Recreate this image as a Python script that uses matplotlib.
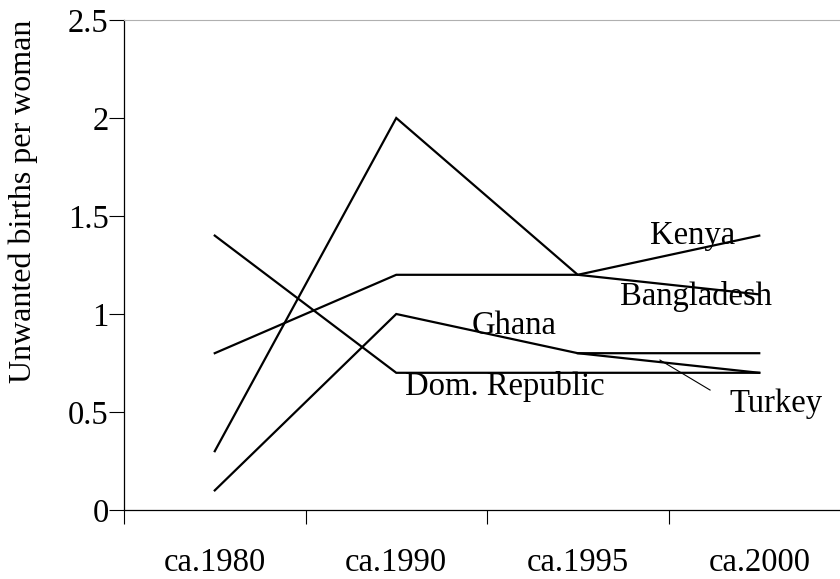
import matplotlib
matplotlib.use("Agg")
import matplotlib.pyplot as plt
import numpy as np

categories = ["ca.1980", "ca.1990", "ca.1995", "ca.2000"]
kenya = [0.3, 2.0, 1.2, 1.4]
bangladesh = [0.8, 1.2, 1.2, 1.1]
ghana = [0.1, 1.0, 0.8, 0.8]
dom_republic = [1.4, 0.7, 0.7, 0.7]
turkey = [np.nan, np.nan, 0.8, 0.7]
y_ticks = [0, 0.5, 1, 1.5, 2, 2.5]
y_tick_labels = ["0", "0.5", "1", "1.5", "2", "2.5"]

plt.rcParams['font.family'] = ['Liberation Serif', 'DejaVu Serif']
FS = 23.5

fig = plt.figure(figsize=(8.4, 5.79), dpi=100)
W, H = 840, 579
ax = fig.add_axes([124 / W, 1 - 510 / H, (850 - 124) / W, (510 - 20) / H])

x = np.arange(len(categories))
for s in [kenya, bangladesh, ghana, dom_republic, turkey]:
    ax.plot(x, s, color='black', lw=1.6, solid_joinstyle='miter')

ax.set_xlim(-0.5, len(categories) - 0.5)
ax.set_ylim(0, 2.5)

ax.set_xticks(x)
ax.set_xticklabels(categories, fontsize=FS)
ax.set_xticks(np.arange(-0.5, len(categories)), minor=True)
ax.tick_params(axis='x', which='major', length=0, pad=27)
ax.tick_params(axis='x', which='minor', length=10, width=0.8, direction='out')

ax.set_yticks(y_ticks)
ax.set_yticklabels(y_tick_labels, fontsize=FS)
ax.tick_params(axis='y', length=11, width=0.8, direction='out', pad=0)

for sp in ['left', 'bottom']:
    ax.spines[sp].set_linewidth(0.9)
ax.spines['right'].set_visible(False)
ax.spines['top'].set_color('#b0b0b0')
ax.spines['top'].set_linewidth(0.8)

ax.set_ylabel("Unwanted births per woman", fontsize=23)
ax.yaxis.set_label_coords(-0.118, 0.63)

ax.text(2.63, 1.40, "Kenya", fontsize=FS, ha='center', va='center')
ax.text(2.65, 1.09, "Bangladesh", fontsize=FS, ha='center', va='center')
ax.text(1.65, 0.94, "Ghana", fontsize=FS, ha='center', va='center')
ax.text(1.60, 0.63, "Dom. Republic", fontsize=FS, ha='center', va='center')
ax.text(3.09, 0.54, "Turkey", fontsize=FS, ha='center', va='center')
ax.plot([2.453, 2.729], [0.765, 0.612], color='black', lw=0.8)

fig.savefig("out.png", dpi=100)
